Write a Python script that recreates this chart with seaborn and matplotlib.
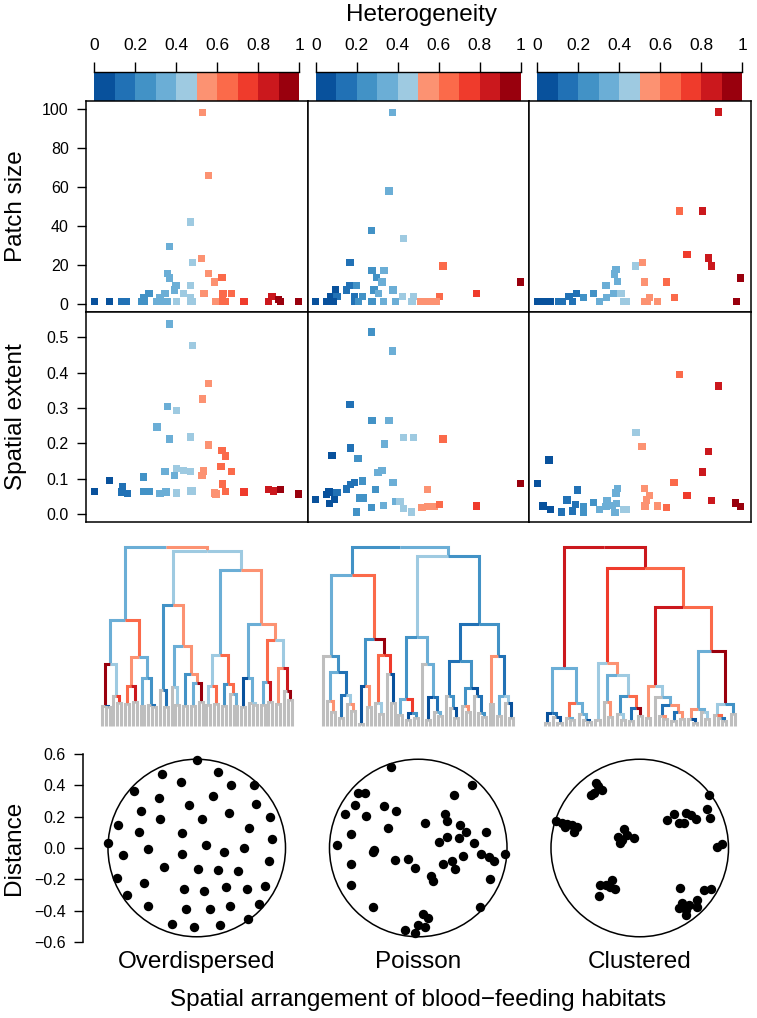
import numpy as np
import matplotlib
matplotlib.use("Agg")
import matplotlib.pyplot as plt
from matplotlib.colors import ListedColormap
from matplotlib.patches import Circle
import seaborn as sns

# ---------------- data ----------------
PALETTE = ["#08519C", "#2171B5", "#4292C6", "#6BAED6", "#9ECAE1",
           "#FC9272", "#FB6A4A", "#EF3B2C", "#CB181D", "#99000D"]
LEAF_GREY = "#BEBEBE"

arrangements = ["Overdispersed", "Poisson", "Clustered"]
cbar_ticks = [0, 2, 4, 6, 8, 10]
cbar_labels = ["0", "0.2", "0.4", "0.6", "0.8", "1"]

# Heterogeneity vs patch size
het_ps_over = [0.527, 0.558, 0.47, 0.366, 0.479, 0.524, 0.356, 0.366, 0.558, 0.623, 0.587, 0.398, 0.47,
               0.268, 0.345, 0.39, 0.434, 0.536, 0.628, 0.67, 0.867,
               0.0, 0.074, 0.134, 0.159, 0.231, 0.244, 0.304, 0.329, 0.356, 0.401, 0.469, 0.477, 0.592,
               0.625, 0.641, 0.73, 0.851, 0.909, 0.996, 0.243, 0.32, 0.47, 0.625, 0.9]
ps_over = [98, 66, 42, 29.6, 21.5, 23.5, 15.6, 13.4, 15.6, 13.7, 11.3, 9.6, 9.6,
           5.4, 5.4, 7.3, 5.4, 5.4, 5.4, 5.4, 4.0,
           1.5, 1.5, 1.5, 1.5, 1.5, 1.5, 1.5, 1.5, 1.5, 1.5, 1.5, 1.5, 1.5,
           1.5, 1.5, 1.5, 1.5, 1.5, 1.5, 3.2, 3.2, 3.2, 3.2, 2.5]
het_ps_pois = [0.375, 0.358, 0.272, 0.429, 0.167, 0.621, 0.275, 0.333, 0.298, 0.324, 0.998,
               0.097, 0.149, 0.168, 0.2, 0.285, 0.306, 0.377, 0.783,
               0.071, 0.104, 0.189, 0.227, 0.424, 0.476, 0.605,
               0.0, 0.052, 0.071, 0.084, 0.189, 0.21, 0.275, 0.33, 0.388, 0.469, 0.513, 0.537, 0.561, 0.586]
ps_pois = [98, 57.9, 37.7, 33.7, 21.5, 19.5, 17.4, 17.4, 13.7, 11.3, 11.3,
           7.3, 7.3, 9.6, 9.6, 7.3, 5.4, 7.3, 5.4,
           4, 4, 4, 4, 4, 4, 4,
           1.5, 1.5, 1.5, 1.5, 1.5, 1.5, 1.5, 1.5, 1.5, 1.5, 1.5, 1.5, 1.5, 1.5]
het_ps_clus = [0.884, 0.694, 0.805, 0.731, 0.834, 0.85, 0.512, 0.48, 0.385, 0.378, 0.393, 0.335, 0.523, 0.63, 0.992,
               0.192, 0.155, 0.227, 0.275, 0.337, 0.372, 0.409, 0.549, 0.67,
               0.002, 0.034, 0.066, 0.106, 0.122, 0.171, 0.304, 0.42, 0.436, 0.522, 0.536, 0.586, 0.972]
ps_clus = [98.3, 47.7, 47.7, 25.5, 23.7, 19.6, 21.5, 19.5, 17.6, 15.4, 11.5, 9.6, 11.3, 11.3, 13.4,
           5.4, 4, 3.4, 5.4, 3.5, 5.4, 5.4, 3.5, 3.5,
           1.5, 1.5, 1.5, 1.5, 1.5, 1.5, 1.5, 1.5, 1.5, 1.5, 1.5, 1.5, 1.5]

# Heterogeneity vs spatial extent
het_se_over = [0.366, 0.479, 0.558, 0.527, 0.356, 0.401, 0.307, 0.366, 0.47, 0.558, 0.623, 0.639, 0.618, 0.67,
               0.534, 0.526, 0.401, 0.434, 0.47, 0.346, 0.39, 0.239, 0.074, 0.138, 0.625, 0.0, 0.134, 0.163,
               0.239, 0.27, 0.32, 0.35, 0.402, 0.47, 0.476, 0.586, 0.594, 0.64, 0.73, 0.851, 0.874, 0.907, 0.996]
se_over = [0.537, 0.477, 0.370, 0.325, 0.305, 0.293, 0.246, 0.212, 0.218, 0.195, 0.180, 0.164, 0.134, 0.120,
           0.122, 0.110, 0.129, 0.124, 0.121, 0.120, 0.109, 0.105, 0.096, 0.079, 0.085, 0.065, 0.063, 0.058,
           0.064, 0.064, 0.058, 0.063, 0.060, 0.066, 0.066, 0.060, 0.057, 0.064, 0.063, 0.069, 0.066, 0.069, 0.057]
het_se_pois = [0.272, 0.375, 0.167, 0.275, 0.358, 0.429, 0.476, 0.621, 0.17, 0.335, 0.079, 0.207, 0.324, 0.304,
               0.227, 0.189, 0.17, 0.149, 0.377, 0.998, 0.544, 0.065, 0.104, 0.052, 0.092, 0.068, 0.0, 0.29,
               0.214, 0.23, 0.388, 0.411, 0.427, 0.468, 0.2, 0.272, 0.33, 0.518, 0.544, 0.579, 0.605, 0.783]
se_pois = [0.515, 0.461, 0.309, 0.265, 0.265, 0.216, 0.216, 0.212, 0.187, 0.198, 0.166, 0.157, 0.124, 0.117,
           0.094, 0.09, 0.083, 0.071, 0.09, 0.086, 0.07, 0.063, 0.062, 0.056, 0.041, 0.03, 0.041, 0.07,
           0.046, 0.046, 0.035, 0.035, 0.016, 0.006, 0.006, 0.019, 0.025, 0.019, 0.021, 0.021, 0.028, 0.023]
het_se_clus = [0.694, 0.884, 0.482, 0.511, 0.834, 0.058, 0.805, 0.667, 0.002, 0.195, 0.523, 0.549, 0.533,
               0.393, 0.385, 0.731, 0.85, 0.968, 0.992, 0.146, 0.187, 0.275, 0.34, 0.364, 0.388, 0.029,
               0.066, 0.119, 0.171, 0.227, 0.227, 0.304, 0.336, 0.38, 0.42, 0.436, 0.525, 0.586, 0.63]
se_clus = [0.395, 0.362, 0.231, 0.192, 0.177, 0.153, 0.119, 0.09, 0.087, 0.068, 0.073, 0.052, 0.04,
           0.073, 0.06, 0.053, 0.038, 0.032, 0.021, 0.04, 0.028, 0.033, 0.037, 0.025, 0.03, 0.023,
           0.013, 0.006, 0.009, 0.021, 0.006, 0.013, 0.021, 0.004, 0.013, 0.014, 0.023, 0.023, 0.019]

# Habitat locations (distance units, unit-area circle)
hab_x_over = [0.001, -0.222, -0.101, 0.133, 0.218, 0.366, -0.402, -0.237, 0.101, -0.052, 0.379, -0.356, -0.232,
              0.033, 0.203, 0.464, -0.498, -0.364, -0.094, 0.33, 0.479, -0.562, 0.06, 0.175, 0.298, -0.466,
              -0.311, -0.094, 0.457, -0.205, 0.01, 0.133, 0.26, -0.508, -0.334, -0.084, 0.048, 0.186, 0.32,
              0.434, -0.441, -0.307, -0.071, 0.086, 0.213, 0.396, -0.156, -0.016, 0.15, 0.326]
hab_y_over = [0.561, 0.471, 0.422, 0.486, 0.401, 0.399, 0.363, 0.318, 0.331, 0.274, 0.28, 0.238, 0.187,
              0.183, 0.225, 0.2, 0.146, 0.102, 0.094, 0.127, 0.059, 0.03, 0.019, -0.025, -0.002, -0.047,
              -0.008, -0.038, -0.083, -0.123, -0.136, -0.14, -0.144, -0.193, -0.223, -0.261, -0.276, -0.246,
              -0.263, -0.244, -0.299, -0.367, -0.39, -0.386, -0.367, -0.355, -0.484, -0.505, -0.492, -0.452]
hab_x_pois = [-0.174, 0.34, -0.386, -0.338, 0.225, -0.401, -0.219, -0.142, -0.467, -0.333, 0.17, 0.183, 0.045,
              0.268, -0.191, 0.304, 0.431, -0.429, 0.183, 0.257, 0.134, 0.357, -0.518, -0.28, -0.287, 0.401,
              0.448, 0.484, 0.552, -0.149, -0.068, 0.282, 0.215, 0.155, 0.234, -0.019, -0.429, 0.081, 0.096,
              0.459, -0.429, -0.287, 0.395, 0.032, 0.059, -0.004, 0.045, -0.083, -0.019]
hab_y_pois = [0.518, 0.403, 0.352, 0.352, 0.338, 0.274, 0.27, 0.236, 0.215, 0.204, 0.217, 0.174, 0.161,
              0.146, 0.125, 0.104, 0.104, 0.087, 0.072, 0.066, 0.04, 0.03, 0.019, -0.013, -0.024, -0.038,
              -0.055, -0.083, -0.038, -0.076, -0.07, -0.051, -0.081, -0.104, -0.136, -0.125, -0.102, -0.178,
              -0.21, -0.195, -0.238, -0.378, -0.378, -0.422, -0.448, -0.49, -0.501, -0.522, -0.539]
hab_x_clus = [-0.276, -0.265, -0.24, -0.308, -0.293,
              -0.533, -0.495, -0.463, -0.473, -0.431, -0.399, -0.418,
              -0.102, -0.138, -0.123, -0.081, -0.038, -0.113,
              0.174, 0.217, 0.248, 0.291, 0.323, 0.28, 0.355,
              0.439, 0.429, 0.446, 0.493, 0.524,
              -0.261, -0.25, -0.215, -0.176, -0.187, -0.155,
              0.255, 0.27, 0.248, 0.291, 0.312, 0.365, 0.365, 0.408, 0.454, 0.291]
hab_y_clus = [0.412, 0.395, 0.369, 0.338, 0.352,
              0.174, 0.161, 0.153, 0.132, 0.146, 0.136, 0.1,
              0.119, 0.072, 0.034, 0.083, 0.062, 0.051,
              0.178, 0.217, 0.161, 0.221, 0.21, 0.161, 0.183,
              0.338, 0.246, 0.193, 0.008, 0.025,
              -0.306, -0.236, -0.236, -0.204, -0.246, -0.263,
              -0.257, -0.348, -0.384, -0.427, -0.363, -0.331, -0.374, -0.268, -0.263, -0.395]

het_ps = [het_ps_over, het_ps_pois, het_ps_clus]
patch_size = [ps_over, ps_pois, ps_clus]
het_se = [het_se_over, het_se_pois, het_se_clus]
spatial_extent = [se_over, se_pois, se_clus]
hab_x = [hab_x_over, hab_x_pois, hab_x_clus]
hab_y = [hab_y_over, hab_y_pois, hab_y_clus]

# ---------------- helpers ----------------
def het_bin(x):
    return np.minimum((np.asarray(x) * 10).astype(int), 9)


def complete_linkage(P):
    n = len(P)
    N = 2 * n - 1
    D = np.full((N, N), np.inf)
    D[:n, :n] = np.sqrt(((P[:, None, :] - P[None, :, :]) ** 2).sum(-1))
    np.fill_diagonal(D, np.inf)
    size = np.zeros(N)
    size[:n] = 1
    active = list(range(n))
    merges = []
    for k in range(n - 1):
        idx = np.array(active)
        sub = D[np.ix_(idx, idx)]
        i, j = np.unravel_index(np.argmin(sub), sub.shape)
        a, b = sorted((idx[i], idx[j]))
        h = sub[i, j]
        new = n + k
        size[new] = size[a] + size[b]
        for c in active:
            if c in (a, b):
                continue
            D[new, c] = D[c, new] = max(D[a, c], D[b, c])
        active.remove(a)
        active.remove(b)
        active.append(new)
        merges.append((a, b, h))
    return merges, size


# ---------------- figure ----------------
sns.set_style("white")
plt.rcParams["font.family"] = ["Liberation Sans", "DejaVu Sans"]
plt.rcParams["axes.linewidth"] = 1.0
for key in ["text.color", "axes.labelcolor", "xtick.color", "ytick.color", "axes.edgecolor"]:
    plt.rcParams[key] = "black"

BIG = 17.5
TICK = 11.5
W, H = 757, 1018
fig = plt.figure(figsize=(W / 100, H / 100), dpi=100)


def ax_px(left, top, width, height):
    return fig.add_axes([left / W, 1 - (top + height) / H, width / W, height / H])


col_left = [86, 307.5, 529]
col_w = 221.5
pal_dict = {i: PALETTE[i] for i in range(10)}
XLIM = (-0.04, 1.04)

for c in range(3):
    L = col_left[c]
    # colour bar
    cax = ax_px(L + col_w * 0.04 / 1.08, 72, col_w / 1.08, 29)
    sns.heatmap(np.arange(10)[None, :], cmap=ListedColormap(PALETTE), cbar=False, ax=cax,
                xticklabels=False, yticklabels=False, vmin=-0.5, vmax=9.5)
    cax.set_xticks(cbar_ticks)
    cax.set_xticklabels(cbar_labels)
    cax.xaxis.tick_top()
    cax.tick_params(axis="x", top=True, bottom=False, labeltop=True, labelbottom=False,
                    length=7, width=1, pad=6.5, labelsize=12.5, color="black", labelcolor="black")
    cax.set_yticks([])
    for s in cax.spines.values():
        s.set_visible(False)
    cax.spines["top"].set_visible(True)
    cax.spines["top"].set_linewidth(1)

    # patch size
    ax1 = ax_px(L, 101, col_w, 211)
    sns.scatterplot(x=het_ps[c], y=patch_size[c], hue=het_bin(het_ps[c]), palette=pal_dict,
                    marker="s", s=28, linewidth=0, legend=False, ax=ax1, zorder=3)
    ax1.set_xlim(XLIM)
    ax1.set_ylim(-4, 104)
    ax1.set_xticks([])
    # spatial extent
    ax2 = ax_px(L, 312, col_w, 210)
    sns.scatterplot(x=het_se[c], y=spatial_extent[c], hue=het_bin(het_se[c]), palette=pal_dict,
                    marker="s", s=28, linewidth=0, legend=False, ax=ax2, zorder=3)
    ax2.set_xlim(XLIM)
    ax2.set_ylim(-0.022, 0.571)
    ax2.set_xticks([])
    for ax in (ax1, ax2):
        ax.set_xlabel("")
        ax.set_ylabel("")
        for s in ax.spines.values():
            s.set_visible(True)
            s.set_color("black")
            s.set_linewidth(1.1)
    if c == 0:
        ax1.set_yticks([0, 20, 40, 60, 80, 100])
        ax1.set_yticklabels(["0", "20", "40", "60", "80", "100"])
        ax2.set_yticks([0, 0.1, 0.2, 0.3, 0.4, 0.5])
        ax2.set_yticklabels(["0.0", "0.1", "0.2", "0.3", "0.4", "0.5"])
        for ax in (ax1, ax2):
            ax.tick_params(axis="y", left=True, length=6.5, width=1, pad=6, labelsize=TICK,
                           color="black", labelcolor="black")
    else:
        ax1.set_yticks([])
        ax2.set_yticks([])

    # dendrogram from habitat locations
    P = np.column_stack([hab_x[c], hab_y[c]])
    n = len(P)
    merges, size = complete_linkage(P)
    children = {n + k: (a, b) for k, (a, b, h) in enumerate(merges)}
    hpos = np.zeros(2 * n - 1)
    for k, (a, b, h) in enumerate(merges):
        hpos[n + k] = h

    def leaf_order(v):
        if v < n:
            return [v]
        a, b = children[v]
        return leaf_order(a) + leaf_order(b)

    root = 2 * n - 2
    order = leaf_order(root)
    xpos = np.zeros(2 * n - 1)
    for i, leaf in enumerate(order):
        xpos[leaf] = i
    for k in range(n - 1):
        a, b = children[n + k]
        xpos[n + k] = (xpos[a] + xpos[b]) / 2

    # heterogeneity of each internal node: rank-matched to patch size
    internal = np.arange(n, 2 * n - 1)
    node_rank = sorted(internal, key=lambda v: (size[v], hpos[v]))
    ps_sorted = np.argsort(np.asarray(patch_size[c]), kind="stable")
    m = len(ps_sorted)
    node_col = {}
    for r, v in enumerate(node_rank):
        j = ps_sorted[int(round(r * (m - 1) / (n - 2)))]
        node_col[v] = PALETTE[het_bin([het_ps[c][j]])[0]]

    dax = ax_px(L + col_w / 2 - 95, 547, 190, 179)
    for v in sorted(internal, key=lambda v: -hpos[v]):
        for ch in children[v]:
            colr = LEAF_GREY if ch < n else node_col[ch]
            dax.plot([xpos[ch], xpos[ch], xpos[v]], [hpos[ch], hpos[v], hpos[v]],
                     color=colr, lw=2.2, solid_joinstyle="miter", solid_capstyle="butt",
                     clip_on=False)
    dax.set_xlim(0, n - 1)
    dax.set_ylim(0, hpos[root])
    dax.axis("off")

    # habitat maps
    hax = ax_px(L, 753.6, col_w, 188.8)
    scale = 188.8 / 1.2
    half_w = col_w / scale / 2
    hax.add_patch(Circle((0, 0), np.sqrt(1 / np.pi), fill=False, lw=1.1, color="black"))
    sns.scatterplot(x=hab_x[c], y=hab_y[c], color="black", s=46, linewidth=0, ax=hax,
                    clip_on=False, zorder=3)
    hax.set_xlim(-half_w, half_w)
    hax.set_ylim(-0.6, 0.6)
    hax.set_xticks([])
    hax.set_xlabel("")
    hax.set_ylabel("")
    for s in hax.spines.values():
        s.set_visible(False)
    if c == 0:
        hax.spines["left"].set_visible(True)
        hax.spines["left"].set_linewidth(1.1)
        hax.spines["left"].set_position(("outward", 2))
        ticks = [-0.6, -0.4, -0.2, 0.0, 0.2, 0.4, 0.6]
        hax.set_yticks(ticks)
        hax.set_yticklabels([f"{t:.1f}".replace("-", "\u2212") for t in ticks])
        hax.tick_params(axis="y", left=True, length=6.5, width=1, pad=6, labelsize=TICK,
                        color="black", labelcolor="black")
    else:
        hax.set_yticks([])
    fig.text((L + col_w / 2) / W, 1 - 962 / H, arrangements[c], ha="center", va="center",
             fontsize=BIG)

fig.text(421 / W, 1 - 15 / H, "Heterogeneity", ha="center", va="center", fontsize=BIG)
fig.text(16 / W, 1 - 206 / H, "Patch size", rotation=90, ha="center", va="center", fontsize=BIG)
fig.text(16 / W, 1 - 417 / H, "Spatial extent", rotation=90, ha="center", va="center", fontsize=BIG)
fig.text(14 / W, 1 - 848 / H, "Distance", rotation=90, ha="center", va="center", fontsize=BIG)
fig.text(418 / W, 1 - 1000 / H, "Spatial arrangement of blood\u2212feeding habitats",
         ha="center", va="center", fontsize=BIG)

fig.savefig("out.png", dpi=100)
